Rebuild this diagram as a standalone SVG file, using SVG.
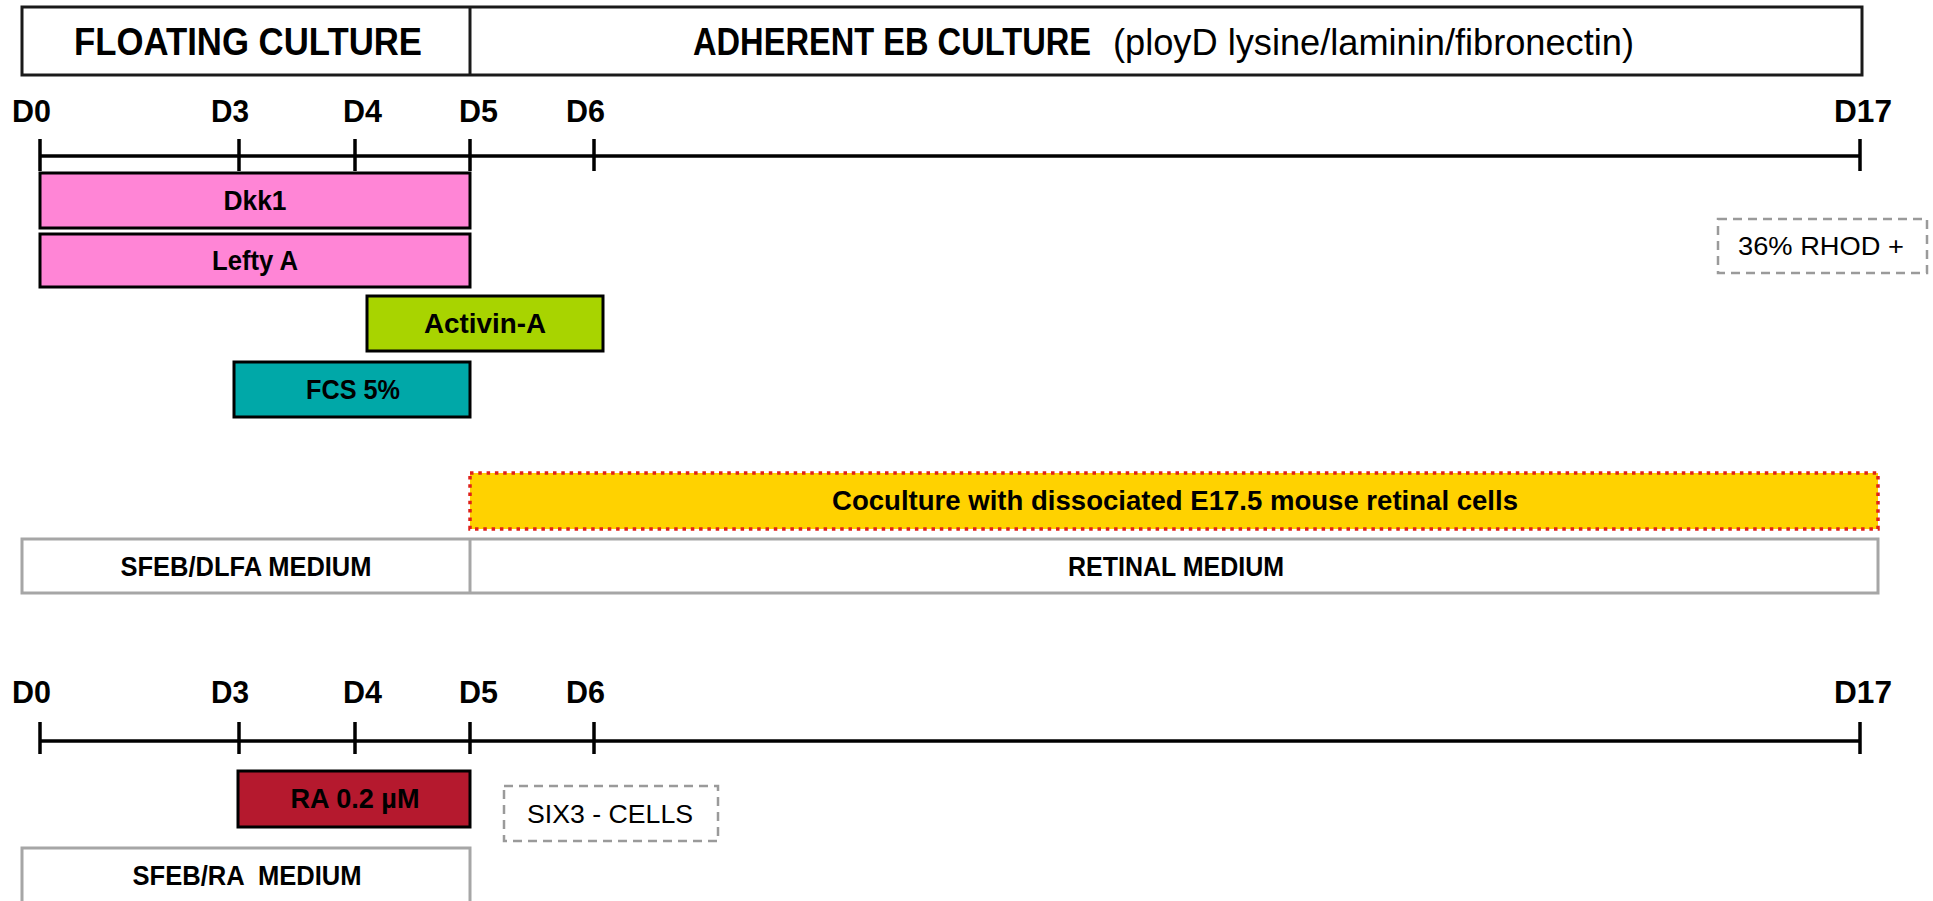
<svg xmlns="http://www.w3.org/2000/svg" width="1933" height="901" viewBox="0 0 1933 901">
  <style>
    text { font-family: "Liberation Sans", Arial, sans-serif; fill: #000; }
    .day { font-weight: bold; font-size: 31px; }
    .head { font-weight: bold; font-size: 38px; }
    .lbl { font-weight: bold; font-size: 28px; text-anchor: middle; }
    .med { font-weight: bold; font-size: 27px; text-anchor: middle; }
    .note { font-size: 26px; text-anchor: middle; }
    .axis { stroke: #000; stroke-width: 3.5; fill: none; }
    .bar { stroke: #000; stroke-width: 3; }
    .medium { fill: #fff; stroke: #a6a6a6; stroke-width: 3; }
    .dash { fill: #fff; stroke: #9a9a9a; stroke-width: 2.5; stroke-dasharray: 9 6; }
  </style>

  <!-- culture phase header -->
  <g id="header">
    <rect x="22" y="7" width="1840" height="68" fill="#fff" stroke="#1a1a1a" stroke-width="3"/>
    <line x1="470" y1="7" x2="470" y2="75" stroke="#1a1a1a" stroke-width="3"/>
    <text class="head" x="74" y="55" textLength="348" lengthAdjust="spacingAndGlyphs">FLOATING CULTURE</text>
    <text class="head" x="693" y="55" textLength="398" lengthAdjust="spacingAndGlyphs">ADHERENT EB CULTURE</text>
    <text x="1113" y="55" font-size="36" textLength="521" lengthAdjust="spacingAndGlyphs">(ployD lysine/laminin/fibronectin)</text>
  </g>

  <!-- day axes -->
  <g id="axes">
    <g id="timeline-top">
      <line class="axis" x1="40" y1="156" x2="1860" y2="156"/>
      <line class="axis" x1="40" y1="139" x2="40" y2="171"/>
      <line class="axis" x1="239" y1="139" x2="239" y2="171"/>
      <line class="axis" x1="355" y1="139" x2="355" y2="171"/>
      <line class="axis" x1="470" y1="139" x2="470" y2="171"/>
      <line class="axis" x1="594" y1="139" x2="594" y2="171"/>
      <line class="axis" x1="1860" y1="139" x2="1860" y2="171"/>
      <text class="day" x="12" y="122" textLength="39" lengthAdjust="spacingAndGlyphs">D0</text>
      <text class="day" x="211" y="122" textLength="38" lengthAdjust="spacingAndGlyphs">D3</text>
      <text class="day" x="343" y="122" textLength="39" lengthAdjust="spacingAndGlyphs">D4</text>
      <text class="day" x="459" y="122" textLength="39" lengthAdjust="spacingAndGlyphs">D5</text>
      <text class="day" x="566" y="122" textLength="39" lengthAdjust="spacingAndGlyphs">D6</text>
      <text class="day" x="1834" y="122" textLength="58" lengthAdjust="spacingAndGlyphs">D17</text>
    </g>
    <g id="timeline-bottom">
      <line class="axis" x1="40" y1="741" x2="1860" y2="741"/>
      <line class="axis" x1="40" y1="722" x2="40" y2="754"/>
      <line class="axis" x1="239" y1="722" x2="239" y2="754"/>
      <line class="axis" x1="355" y1="722" x2="355" y2="754"/>
      <line class="axis" x1="470" y1="722" x2="470" y2="754"/>
      <line class="axis" x1="594" y1="722" x2="594" y2="754"/>
      <line class="axis" x1="1860" y1="722" x2="1860" y2="754"/>
      <text class="day" x="12" y="703" textLength="39" lengthAdjust="spacingAndGlyphs">D0</text>
      <text class="day" x="211" y="703" textLength="38" lengthAdjust="spacingAndGlyphs">D3</text>
      <text class="day" x="343" y="703" textLength="39" lengthAdjust="spacingAndGlyphs">D4</text>
      <text class="day" x="459" y="703" textLength="39" lengthAdjust="spacingAndGlyphs">D5</text>
      <text class="day" x="566" y="703" textLength="39" lengthAdjust="spacingAndGlyphs">D6</text>
      <text class="day" x="1834" y="703" textLength="58" lengthAdjust="spacingAndGlyphs">D17</text>
    </g>
  </g>

  <!-- factor bars -->
  <g id="dkk1">
    <rect class="bar" x="40" y="173" width="430" height="55" fill="#ff85d6"/>
    <text class="lbl" x="255" y="210" textLength="63" lengthAdjust="spacingAndGlyphs">Dkk1</text>
  </g>
  <g id="lefty-a">
    <rect class="bar" x="40" y="234" width="430" height="53" fill="#ff85d6"/>
    <text class="lbl" x="255" y="270" textLength="86" lengthAdjust="spacingAndGlyphs">Lefty A</text>
  </g>
  <g id="activin-a">
    <rect class="bar" x="367" y="296" width="236" height="55" fill="#a8d400"/>
    <text class="lbl" x="485" y="333" textLength="122" lengthAdjust="spacingAndGlyphs">Activin-A</text>
  </g>
  <g id="fcs">
    <rect class="bar" x="234" y="362" width="236" height="55" fill="#00a8a8"/>
    <text class="lbl" x="353" y="399" textLength="94" lengthAdjust="spacingAndGlyphs">FCS 5%</text>
  </g>

  <g id="rhod">
    <rect class="dash" x="1718" y="219" width="209" height="54"/>
    <text class="note" x="1821" y="255" font-size="27" textLength="166" lengthAdjust="spacingAndGlyphs">36% RHOD +</text>
  </g>

  <g id="coculture">
    <rect x="470" y="473" width="1408" height="56" fill="#ffd200" stroke="#e0201a" stroke-width="3.5" stroke-dasharray="3.5 4.8"/>
    <text class="med" x="1175" y="510" textLength="686" lengthAdjust="spacingAndGlyphs">Coculture with dissociated E17.5 mouse retinal cells</text>
  </g>

  <g id="media">
    <rect class="medium" x="22" y="539" width="1856" height="54"/>
    <line x1="470" y1="539" x2="470" y2="593" stroke="#a6a6a6" stroke-width="3"/>
    <text class="med" x="246" y="576" textLength="251" lengthAdjust="spacingAndGlyphs">SFEB/DLFA MEDIUM</text>
    <text class="med" x="1176" y="576" textLength="216" lengthAdjust="spacingAndGlyphs">RETINAL MEDIUM</text>
  </g>

  <!-- retinoic acid protocol -->
  <g id="ra">
    <rect class="bar" x="238" y="771" width="232" height="56" fill="#b5192e"/>
    <text class="lbl" x="355" y="808" textLength="129" lengthAdjust="spacingAndGlyphs">RA 0.2 µM</text>
  </g>
  <g id="six3">
    <rect class="dash" x="504" y="786" width="214" height="55"/>
    <text class="note" x="610" y="823" textLength="166" lengthAdjust="spacingAndGlyphs">SIX3 - CELLS</text>
  </g>
  <g id="sfeb-ra">
    <rect class="medium" x="22" y="848" width="448" height="70"/>
    <text class="med" x="247" y="885" xml:space="preserve" textLength="229" lengthAdjust="spacingAndGlyphs">SFEB/RA  MEDIUM</text>
  </g>
</svg>
